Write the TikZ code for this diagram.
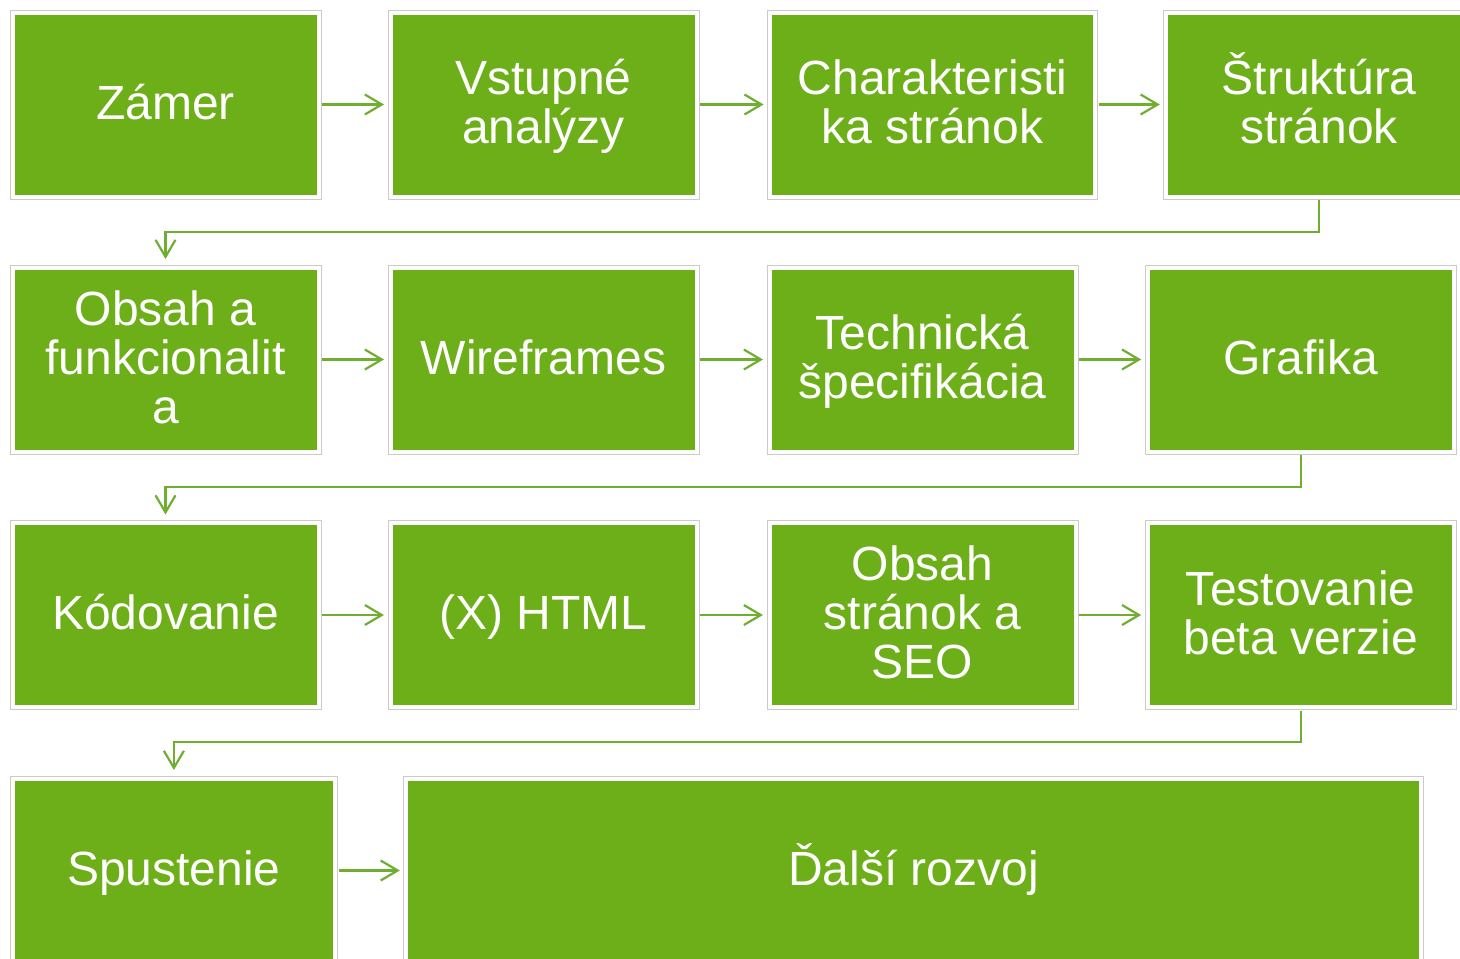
\documentclass[tikz,border=0pt]{standalone}
\usepackage{fontspec}
\setmainfont{Liberation Sans}
\usetikzlibrary{arrows.meta}
\definecolor{grn}{HTML}{6CAF18}
\definecolor{arrgrn}{HTML}{70AE32}
\definecolor{bordergray}{HTML}{CACACA}
\newcommand\topstrut{\rule{0pt}{42pt}}
\begin{document}
\begin{tikzpicture}[x=1pt,y=-1pt,
  stepbox/.style={rectangle, fill=grn, draw=white, line width=4pt,
    preaction={draw=bordergray, line width=6pt},
    inner sep=0pt, outer sep=3.5pt, text=white, align=center,
    font=\fontsize{48}{49}\selectfont, minimum height=184pt, minimum width=306pt,
    execute at begin node={\topstrut},
    execute at end node={\rule[-13pt]{0pt}{13pt}}},
  conn/.style={draw=arrgrn, line width=2.2pt, line join=miter,
    -{Straight Barb[length=17pt,width=20pt]}, shorten >=3pt}
]
\useasboundingbox (0,0) rectangle (1460,959);
\clip (0,0) rectangle (1460,959);
% row 1
\node[stepbox] (zamer) at (165.5,104.5) {Zámer};
\node[stepbox] (vstup) at (543.5,104.5) {\topstrut Vstupné\\analýzy};
\node[stepbox, minimum width=325pt] (charak) at (932.6,104.5) {\topstrut Charakteristi\\ka stránok};
\node[stepbox] (strukt) at (1319.3,104.5) {\topstrut Štruktúra\\stránok};
% row 2
\node[stepbox] (obsahf) at (165.5,359.5) {\topstrut Obsah a\\funkcionalit\\a};
\node[stepbox] (wire) at (543.5,359.5) {Wireframes};
\node[stepbox] (tech) at (922.5,359.5) {\topstrut Technická\\špecifikácia};
\node[stepbox] (graf) at (1300.7,359.5) {Grafika};
% row 3
\node[stepbox] (kod) at (165.5,615) {Kódovanie};
\node[stepbox] (html) at (543.5,615) {(X) HTML};
\node[stepbox] (obsahs) at (922.5,615) {\topstrut Obsah\\stránok a\\SEO};
\node[stepbox] (test) at (1300.7,615) {\topstrut Testovanie\\beta verzie};
% row 4
\node[stepbox, minimum width=322.8pt] (spust) at (173.9,870.5) {Spustenie};
\node[stepbox, minimum width=1014.7pt] (dalsi) at (913.7,870.5) {Ďalší rozvoj};
% elbow levels
\coordinate (l1) at (0,232);
\coordinate (l2) at (0,487);
\coordinate (l3) at (0,742);
% horizontal connectors
\draw[conn] (zamer) -- (vstup);
\draw[conn] (vstup) -- (charak);
\draw[conn] (charak) -- (strukt);
\draw[conn] (obsahf) -- (wire);
\draw[conn] (wire) -- (tech);
\draw[conn] (tech) -- (graf);
\draw[conn] (kod) -- (html);
\draw[conn] (html) -- (obsahs);
\draw[conn] (obsahs) -- (test);
\draw[conn] (spust) -- (dalsi);
% elbow connectors
\draw[conn, shorten >=5pt] (strukt.south) -- (strukt.south |- l1) -| (obsahf.north);
\draw[conn, shorten >=5pt] (graf.south) -- (graf.south |- l2) -| (kod.north);
\draw[conn, shorten >=5pt] (test.south) -- (test.south |- l3) -| (spust.north);
\end{tikzpicture}
\end{document}
